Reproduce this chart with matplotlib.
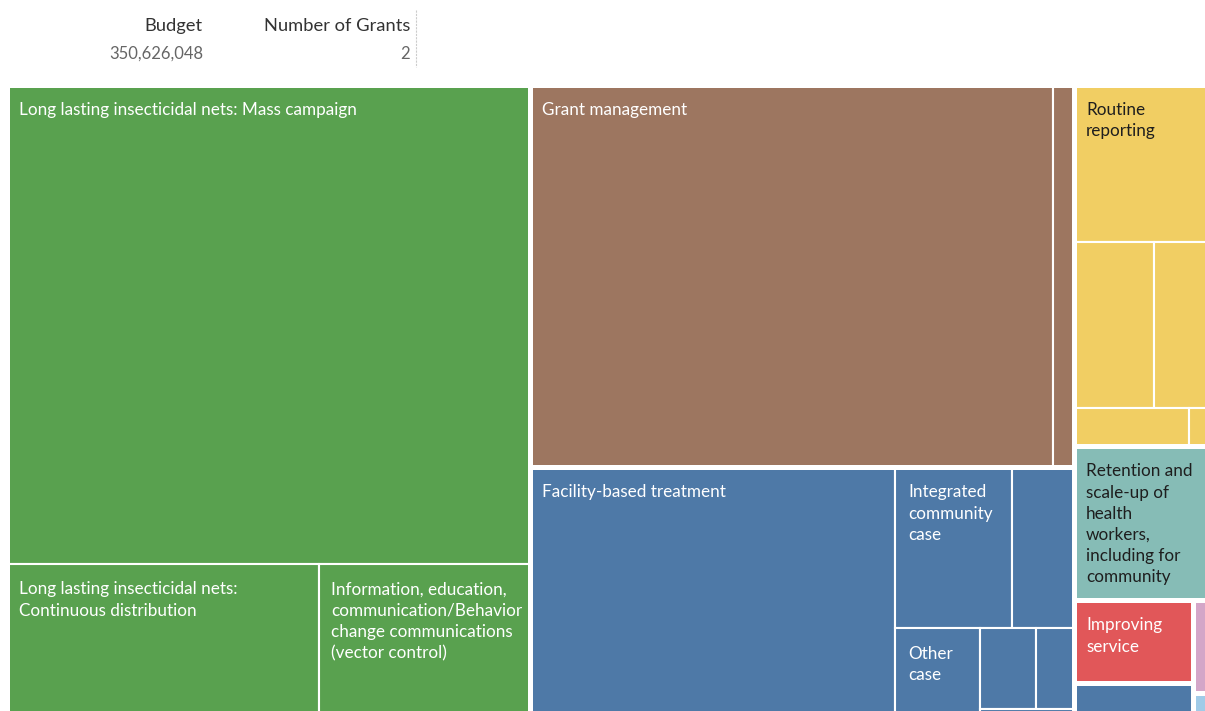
import matplotlib.pyplot as plt
from matplotlib.patches import Rectangle

# budget per intervention, in millions (unlabelled cells keep an empty label)
labels = [
    "Long lasting insecticidal nets: Mass campaign",
    "Long lasting insecticidal nets:\nContinuous distribution",
    "Information, education,\ncommunication/Behavior\nchange communications\n(vector control)",
    "Grant management",
    "",
    "Facility-based treatment",
    "Integrated\ncommunity\ncase",
    "",
    "Other\ncase",
    "", "", "",
    "Routine\nreporting",
    "", "", "", "",
    "Retention and\nscale-up of\nhealth\nworkers,\nincluding for\ncommunity",
    "Improving\nservice",
    "", "", "",
]
budget = [115.11, 22.66, 15.27, 91.91, 3.60, 42.84, 8.61, 4.55, 3.65, 2.09, 1.40,
          0.54, 10.01, 6.13, 4.42, 2.01, 0.40, 9.79, 4.58, 2.11, 0.82, 0.25]
group = [0, 0, 0, 1, 1, 2, 2, 2, 2, 2, 2, 2, 3, 3, 3, 3, 3, 4, 5, 6, 7, 8]
group_colors = ["#59A14F", "#9D7660", "#4E79A7", "#F1CE63", "#86BCB6",
                "#E15759", "#4E79A7", "#D4A6C8", "#A0CBE8"]
dark_text = {3, 4}

total_budget = "350,626,048"
n_grants = "2"

# how the cells are nested: "h" splits left->right, "v" splits top->bottom
layout = ("h", [
    ("v", [0, ("h", [1, 2])]),
    ("v", [("h", [3, 4]),
           ("h", [5, ("v", [("h", [6, 7]),
                            ("h", [8, ("v", [("h", [9, 10]), 11])])])])]),
    ("v", [("v", [12, ("h", [13, 14]), ("h", [15, 16])]),
           17,
           ("h", [("v", [18, 19]), ("v", [20, 21])])]),
])


def node_total(node):
    if isinstance(node, int):
        return budget[node]
    return sum(node_total(c) for c in node[1])


def place(node, x0, y0, x1, y1, rects):
    if isinstance(node, int):
        rects[node] = (x0, y0, x1, y1)
        return
    kind, children = node
    tot = node_total(node)
    pos = x0 if kind == "h" else y0
    for c in children:
        frac = node_total(c) / tot
        if kind == "h":
            step = (x1 - x0) * frac
            place(c, pos, y0, pos + step, y1, rects)
        else:
            step = (y1 - y0) * frac
            place(c, x0, pos, x1, pos + step, rects)
        pos += step


rects = {}
place(layout, 6.5, 84.5, 1212, 722, rects)

W, H = 1205, 711
fig = plt.figure(figsize=(W / 100, H / 100), dpi=100)
ax = fig.add_axes([0, 0, 1, 1])
ax.set_xlim(0, W)
ax.set_ylim(H, 0)
ax.axis("off")

font = "Lato"

for i, (x0, y0, x1, y1) in rects.items():
    ax.add_patch(Rectangle((x0, y0), x1 - x0, y1 - y0,
                           facecolor=group_colors[group[i]],
                           edgecolor="white", linewidth=1.5))

# thicker white borders between groups
for g in range(len(group_colors)):
    cells = [rects[i] for i in range(len(budget)) if group[i] == g]
    gx0 = min(c[0] for c in cells)
    gy0 = min(c[1] for c in cells)
    gx1 = max(c[2] for c in cells)
    gy1 = max(c[3] for c in cells)
    ax.add_patch(Rectangle((gx0, gy0), gx1 - gx0, gy1 - gy0,
                           facecolor="none", edgecolor="white", linewidth=3.6))

for i, (x0, y0, x1, y1) in rects.items():
    if labels[i]:
        col = "#1e1e1e" if group[i] in dark_text else "white"
        ax.text(x0 + 12.5, y0 + 17.5, labels[i], color=col, fontsize=12.3,
                family=font, va="top", ha="left", linespacing=1.40)

# header
ax.text(203, 26, "Budget", ha="right", va="center", fontsize=13.2,
        family=font, color="#333333")
ax.text(410, 26, "Number of Grants", ha="right", va="center", fontsize=13.2,
        family=font, color="#333333")
ax.text(203, 54, total_budget, ha="right", va="center", fontsize=12,
        family=font, color="#666666")
ax.text(410, 54, n_grants, ha="right", va="center", fontsize=12,
        family=font, color="#666666")
ax.plot([416, 416], [10, 67], color="#cccccc", lw=0.8, ls=(0, (2, 1)))

fig.savefig("out.png", dpi=100)
